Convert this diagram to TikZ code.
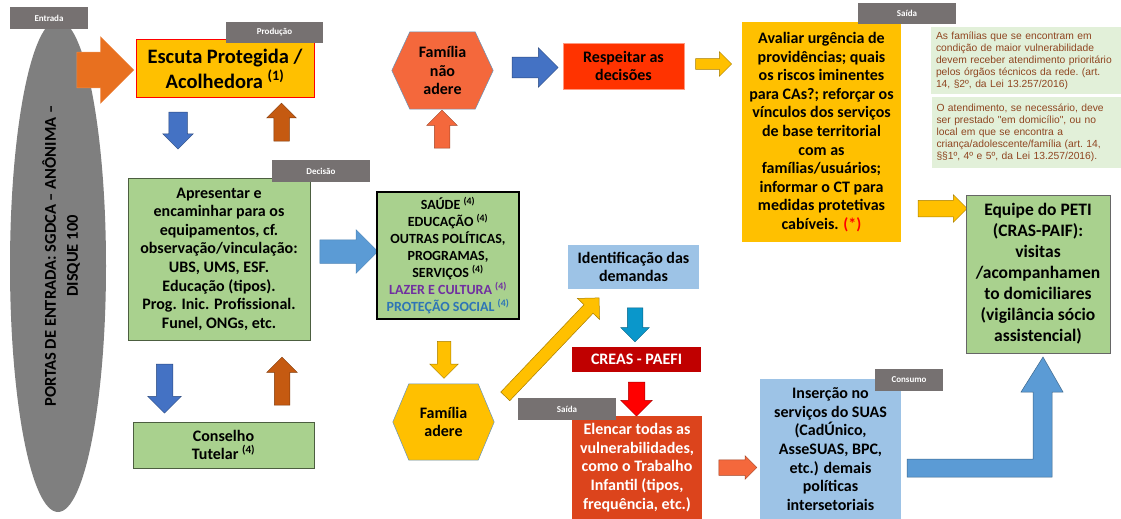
\documentclass[tikz,border=0pt]{standalone}
\usepackage{fontspec}
\setmainfont{Carlito}
\newfontfamily\notefont{Liberation Sans}
\usetikzlibrary{arrows.meta,positioning,shapes.geometric,shapes.arrows,backgrounds}
\definecolor{amarelo}{HTML}{FFC000}
\definecolor{verde}{HTML}{A9D18E}
\definecolor{cinzatag}{HTML}{767171}
\definecolor{cinza}{HTML}{7F7F7F}
\definecolor{azul}{HTML}{4472C4}
\definecolor{azulclaro}{HTML}{5B9BD5}
\definecolor{azulcaixa}{HTML}{9DC3E6}
\definecolor{laranja}{HTML}{E8701F}
\definecolor{marrom}{HTML}{C55A11}
\definecolor{coral}{HTML}{F4683C}
\definecolor{vermelho}{HTML}{FF3300}
\definecolor{vinho}{HTML}{C00000}
\definecolor{tijolo}{HTML}{DC441C}
\definecolor{ciano}{HTML}{0A97CB}
\definecolor{notafundo}{HTML}{E2F0D9}
\definecolor{notatexto}{HTML}{8F4520}
\definecolor{roxo}{HTML}{7030A0}
\definecolor{azultexto}{HTML}{2E75B6}
\tikzset{
box/.style={align=center,inner sep=0pt,font=\fontsize{16}{18.6}\selectfont\bfseries},
tag/.style={fill=cinzatag,text=white,inner sep=0pt,minimum height=22,font=\fontsize{9}{10}\selectfont\bfseries},
barrow/.style={single arrow,fill=#1,draw=#1!65!black,line width=.5pt},
note/.style={fill=notafundo,text=notatexto,align=left,inner xsep=5,inner ysep=0pt,text width=180,font=\notefont\fontsize{10.3}{12.1}\selectfont\frenchspacing},
hexa/.style={fill=#1,draw=azulclaro!70!gray,line width=.5pt}
}

\begin{document}
\begin{tikzpicture}[x=1pt,y=-1pt]
\useasboundingbox (0,0) rectangle (1121,519);

% entrada
\node[ellipse,fill=cinza,minimum width=96,minimum height=492,inner sep=0pt] (portas) at (58,266) {};
\node[box,rotate=90,font=\fontsize{16.5}{22}\selectfont\bfseries] (portastxt) at (61,256) {PORTAS DE ENTRADA: SGDCA -- ANÔNIMA --\\DISQUE 100};
\node[tag,minimum width=78] (entrada) at (49,18) {Entrada};
\node[barrow=laranja,minimum height=57,inner sep=17.5,single arrow head extend=15.5,draw=laranja!80!white] (a1) at (96.5,70) {};

% producao
\node[box,fill=amarelo,draw=red,line width=1pt,minimum width=178,minimum height=57,font=\fontsize{20.5}{25}\selectfont\bfseries] (escuta) at (225,68.5) {Escuta Protegida /\\Acolhedora \textsuperscript{(1)}};
\node[tag,minimum width=97,minimum height=21] (producao) at (274.5,32.5) {Produção};
\node[barrow=azul,minimum height=37,inner sep=9,single arrow head extend=6,rotate=-90] (a2) at (178,126) {};
\node[barrow=marrom,minimum height=38,inner sep=7.5,single arrow head extend=7,rotate=90] (a3) at (281.5,126) {};

% decisao
\node[box,fill=verde,draw=verde!45!black,line width=.8pt,minimum width=182,minimum height=162] (apresentar) at (219,259) {Apresentar e\\encaminhar para os\\equipamentos, cf.\\observação/vinculação:\\UBS, UMS, ESF.\\Educação (tipos).\\Prog. Inic. Profissional.\\Funel, ONGs, etc.};
\node[tag,minimum width=98] (decisao) at (321,171) {Decisão};
\node[barrow=azulclaro,minimum height=58,inner sep=11.5,single arrow head extend=10,draw=azulclaro!85!black] (a4) at (343,251.5) {};
\node[barrow=azul,minimum height=49,inner sep=8,single arrow head extend=8.5,rotate=-90] (a5) at (164.5,384.5) {};
\node[barrow=marrom,minimum height=48,inner sep=7.5,single arrow head extend=7.5,rotate=90] (a6) at (282,385) {};
\node[box,fill=verde,draw=verde!45!black,line width=.8pt,minimum width=181,minimum height=46] (conselho) at (223.5,445) {Conselho\\Tutelar \textsuperscript{(4)}};

% politicas
\node[box,fill=verde,draw=black,line width=1.2pt,minimum width=142,minimum height=127,font=\fontsize{14}{17}\selectfont\bfseries] (politicas) at (448,255.5) {SAÚDE \textsuperscript{(4)}\\EDUCAÇÃO \textsuperscript{(4)}\\OUTRAS POLÍTICAS,\\PROGRAMAS,\\SERVIÇOS \textsuperscript{(4)}\\\textcolor{roxo}{LAZER E CULTURA \textsuperscript{(4)}}\\\textcolor{azultexto}{PROTEÇÃO SOCIAL \textsuperscript{(4)}}};

% familia nao adere
\node[box,minimum width=101,minimum height=77] (naoadere) at (442.5,70.5) {Família\\não\\adere};
\begin{scope}[on background layer]
\filldraw[hexa=coral] (naoadere.west) -- ([xshift=18]naoadere.north west) -- ([xshift=-18]naoadere.north east) -- (naoadere.east) -- ([xshift=-18]naoadere.south east) -- ([xshift=18]naoadere.south west) -- cycle;
\end{scope}
\node[barrow=coral,minimum height=38,inner sep=7.5,single arrow head extend=7.5,rotate=90] (a7) at (442,133) {};
\node[barrow=azul,minimum height=46,inner sep=10,single arrow head extend=9.5] (a8) at (530,67.5) {};
\node[box,fill=vermelho,draw=vermelho!50!white,line width=.5pt,minimum width=121,minimum height=46] (respeitar) at (623.5,66) {Respeitar as\\decisões};
\node[barrow=amarelo,minimum height=36,inner sep=5,single arrow head extend=7] (a9) at (711,64) {};

% familia adere
\node[barrow=amarelo,minimum height=37,inner sep=6.5,single arrow head extend=7.5,rotate=-90] (a10) at (444,356.5) {};
\node[box,minimum width=101,minimum height=76] (adere) at (443.5,422) {Família\\adere};
\begin{scope}[on background layer]
\filldraw[hexa=amarelo] (adere.west) -- ([xshift=16]adere.north west) -- ([xshift=-16]adere.north east) -- (adere.east) -- ([xshift=-16]adere.south east) -- ([xshift=16]adere.south west) -- cycle;
\end{scope}
\node[barrow=amarelo,minimum height=136,inner sep=6,single arrow head extend=9,rotate=46.4] (a11) at (550,349.4) {};

% creas
\node[box,fill=azulcaixa,minimum width=131,minimum height=44] (identificacao) at (633.5,267) {Identificação das\\demandas};
\node[barrow=ciano,minimum height=34,inner sep=7.5,single arrow head extend=6.5,rotate=-90] (a12) at (635,321) {};
\node[box,fill=vinho,text=white,minimum width=129,minimum height=25] (creas) at (636.5,359.5) {CREAS - PAEFI};
\node[barrow=red,minimum height=34,inner sep=8,single arrow head extend=7.5,rotate=-90] (a13) at (636.5,395) {};
\node[box,fill=tijolo,text=white,minimum width=130,minimum height=103] (elencar) at (637,467.5) {Elencar todas as\\vulnerabilidades,\\como o Trabalho\\Infantil (tipos,\\frequência, etc.)};
\node[tag,minimum width=98] (saida2) at (567,409) {Saída};
\node[barrow=coral,minimum height=38,inner sep=7.5,single arrow head extend=4] (a14) at (734,467.5) {};

% consumo
\node[box,fill=azulcaixa,minimum width=141,minimum height=140] (insercao) at (830.5,449) {Inserção no\\serviços do SUAS\\(CadÚnico,\\AsseSUAS, BPC,\\etc.) demais\\políticas\\intersetoriais};
\node[tag,minimum width=68] (consumo) at (909,380) {Consumo};
\filldraw[fill=azulclaro,draw=azulclaro!65!black,line width=.5pt] (907,459) -- (1033,459) -- (1033,392) -- (1021,392) -- (1043,357) -- (1063,392) -- (1052,392) -- (1052,477) -- (907,477) -- cycle;

% saida
\node[box,fill=amarelo,minimum width=159,minimum height=220] (avaliar) at (821.5,132) {Avaliar urgência de\\providências; quais\\os riscos iminentes\\para CAs?; reforçar os\\vínculos dos serviços\\de base territorial\\com as\\famílias/usuários;\\informar o CT para\\medidas protetivas\\cabíveis. \textcolor{red}{(*)}};
\node[tag,minimum width=98,minimum height=21] (saida1) at (907,13.5) {Saída};
\node[note,minimum height=67] (nota1) at (1026,60.5) {As famílias que se encontram em\\condição de maior vulnerabilidade\\devem receber atendimento prioritário\\pelos órgãos técnicos da rede. (art.\\14, §2º, da Lei 13.257/2016)};
\node[note,minimum height=71] (nota2) at (1026.5,132.5) {O atendimento, se necessário, deve\\ser prestado "em domicílio", ou no\\local em que se encontra a\\criança/adolescente/família (art. 14,\\§§1º, 4º e 5º, da Lei 13.257/2016).};
\node[barrow=amarelo,minimum height=49,inner sep=8,single arrow head extend=5.5] (a15) at (938.5,208.5) {};
\node[box,fill=verde,draw=black!60,line width=.8pt,minimum width=144,minimum height=158,font=\fontsize{17.5}{21}\selectfont\bfseries] (equipe) at (1038,274) {Equipe do PETI\\(CRAS-PAIF):\\visitas\\/acompanhamen\\to domiciliares\\(vigilância sócio\\assistencial)};
\end{tikzpicture}
\end{document}
